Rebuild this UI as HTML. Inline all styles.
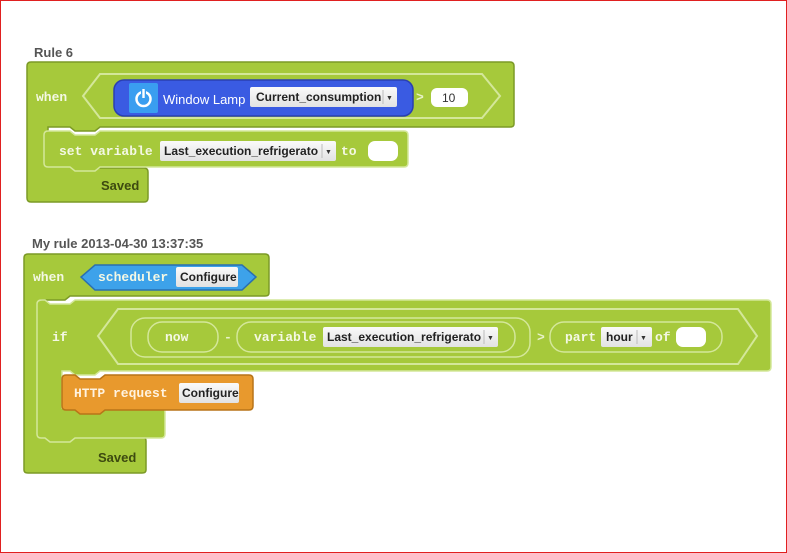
<!DOCTYPE html>
<html><head><meta charset="utf-8"><style>
html,body{margin:0;padding:0;background:#fff}
svg{display:block}
.t{font-family:"Liberation Sans",sans-serif}
.m{font-family:"Liberation Mono",monospace;font-weight:bold;fill:#f4f8e4;font-size:13px}
.dd{font-family:"Liberation Sans",sans-serif;font-weight:bold;font-size:12px;fill:#222}
</style></head><body>
<svg width="787" height="553" viewBox="0 0 787 553" xmlns="http://www.w3.org/2000/svg">
<rect x="0.5" y="0.5" width="786" height="552" fill="#fff" stroke="#e02020"/>
<defs>
<linearGradient id="dg" x1="0" y1="0" x2="0" y2="1"><stop offset="0" stop-color="#fafafa"/><stop offset="1" stop-color="#e2e2e2"/></linearGradient>
</defs>
<g fill="#a6c93b" stroke="#7c9a26" stroke-width="1.5">
<path d="M31,62 H510 Q514,62 514,66 V124 Q514,127 510,127 H100 L95,131 H75 L70,127 H48 V164 H70 L75,168 H144 Q148,168 148,172 V198 Q148,202 144,202 H31 Q27,202 27,198 V66 Q27,62 31,62Z"/>
<path d="M100,74 H482 L500,96 L482,118 H100 L83,96Z" fill="#a6c93b" stroke="#d4e79a" stroke-width="2"/>
<path d="M48,131 H70 L75,135 H95 L100,131 H404 Q408,131 408,135 V163 Q408,167 404,167 H100 L95,171 H75 L70,167 H48 Q44,167 44,163 V135 Q44,131 48,131Z" stroke="#d4e79a" stroke-width="1.5"/>
<path d="M28,254 H265 Q269,254 269,258 V293 Q269,296 265,296 H70 L65,300 H42 V437 H45 L50,441 H70 L75,437 H142 Q146,437 146,441 V470 Q146,473 142,473 H28 Q24,473 24,470 V258 Q24,254 28,254Z"/>
<path d="M42,300 H45 L50,304 H70 L75,300 H767 Q771,300 771,304 V367 Q771,371 767,371 H100 L95,375 H75 L70,371 H62 V408 H75 L80,412 H100 L105,408 H161 Q165,408 165,412 V434 Q165,438 161,438 H75 L70,442 H50 L45,438 H41 Q37,438 37,434 V304 Q37,300 42,300Z" stroke="#d4e79a"/>
<path d="M118,309 H738 L757,336 L738,364 H118 L98,336Z" stroke="#d4e79a" stroke-width="2"/>
<rect x="131" y="318" width="399" height="39" rx="14" stroke="#d4e79a" stroke-width="1.5"/>
<rect x="148" y="322" width="70" height="30" rx="14" stroke="#d4e79a" stroke-width="1.5"/>
<rect x="237" y="322" width="278" height="30" rx="14" stroke="#d4e79a" stroke-width="1.5"/>
<rect x="550" y="322" width="172" height="30" rx="14" stroke="#d4e79a" stroke-width="1.5"/>
</g>
<rect x="114" y="80" width="299" height="36" rx="10" fill="#3a5be2" stroke="#2a3fb0" stroke-width="1.5"/>
<rect x="129" y="83" width="29" height="30" rx="2" fill="#3a9ef0"/>
<circle cx="143.5" cy="99" r="7" fill="none" stroke="#fff" stroke-width="2.5"/>
<rect x="141" y="88" width="5" height="9" fill="#3a9ef0"/>
<rect x="142.3" y="89" width="2.4" height="9" fill="#fff"/>
<text x="163" y="104" class="t" font-size="13" fill="#fff">Window Lamp</text>
<rect x="250" y="87" width="147" height="20" rx="2" fill="url(#dg)"/>
<text x="256" y="101" class="dd">Current_consumption</text>
<line x1="383" y1="90" x2="383" y2="104" stroke="#bbb"/>
<text x="386" y="100" font-size="7" fill="#333">▼</text>
<text x="416" y="101" class="m" style="fill:#e8f2c8">&gt;</text>
<rect x="431" y="88" width="37" height="19" rx="6" fill="#fff"/>
<text x="442" y="102" class="t" font-size="12" fill="#333">10</text>
<text x="36" y="101" class="m">when</text>
<text x="34" y="57" class="t" font-size="13" font-weight="bold" fill="#555">Rule 6</text>
<text x="59" y="155" class="m">set variable</text>
<rect x="160" y="141" width="176" height="20" rx="2" fill="url(#dg)"/>
<text x="164" y="155" class="dd">Last_execution_refrigerato</text>
<line x1="322" y1="144" x2="322" y2="158" stroke="#bbb"/>
<text x="325" y="154" font-size="7" fill="#333">▼</text>
<text x="341" y="155" class="m">to</text>
<rect x="368" y="141" width="30" height="20" rx="7" fill="#fff"/>
<text x="101" y="190" class="t" font-size="13" font-weight="bold" fill="#3d4a10">Saved</text>
<text x="32" y="248" class="t" font-size="13" font-weight="bold" fill="#555">My rule 2013-04-30 13:37:35</text>
<text x="33" y="281" class="m">when</text>
<path d="M95,265 H242 L256,277 L242,290 H95 L81,277Z" fill="#3da2ea" stroke="#2a6fb0" stroke-width="1.5"/>
<text x="98" y="281" class="m">scheduler</text>
<rect x="176" y="267" width="62" height="20" rx="2" fill="url(#dg)"/>
<text x="180" y="281" class="dd">Configure</text>
<text x="52" y="341" class="m">if</text>
<text x="165" y="341" class="m">now</text>
<text x="224" y="341" class="m" style="fill:#e8f2c8">-</text>
<text x="254" y="341" class="m">variable</text>
<rect x="323" y="327" width="175" height="20" rx="2" fill="url(#dg)"/>
<text x="327" y="341" class="dd">Last_execution_refrigerato</text>
<line x1="484" y1="330" x2="484" y2="344" stroke="#bbb"/>
<text x="487" y="340" font-size="7" fill="#333">▼</text>
<text x="537" y="341" class="m" style="fill:#e8f2c8">&gt;</text>
<text x="565" y="341" class="m">part</text>
<rect x="601" y="327" width="51" height="20" rx="2" fill="url(#dg)"/>
<text x="606" y="341" class="dd">hour</text>
<line x1="637" y1="330" x2="637" y2="344" stroke="#bbb"/>
<text x="640" y="340" font-size="7" fill="#333">▼</text>
<text x="655" y="341" class="m">of</text>
<rect x="676" y="327" width="30" height="20" rx="7" fill="#fff"/>
<path d="M66,375 H75 L80,379 H100 L105,375 H249 Q253,375 253,379 V406 Q253,410 249,410 H105 L100,414 H80 L75,410 H66 Q62,410 62,406 V379 Q62,375 66,375Z" fill="#e8992d" stroke="#b87418" stroke-width="1.5"/>
<text x="74" y="397" class="m" style="fill:#fff3e0">HTTP request</text>
<rect x="179" y="383" width="60" height="20" rx="2" fill="url(#dg)"/>
<text x="182" y="397" class="dd">Configure</text>
<text x="98" y="462" class="t" font-size="13" font-weight="bold" fill="#3d4a10">Saved</text>
</svg>
</body></html>
